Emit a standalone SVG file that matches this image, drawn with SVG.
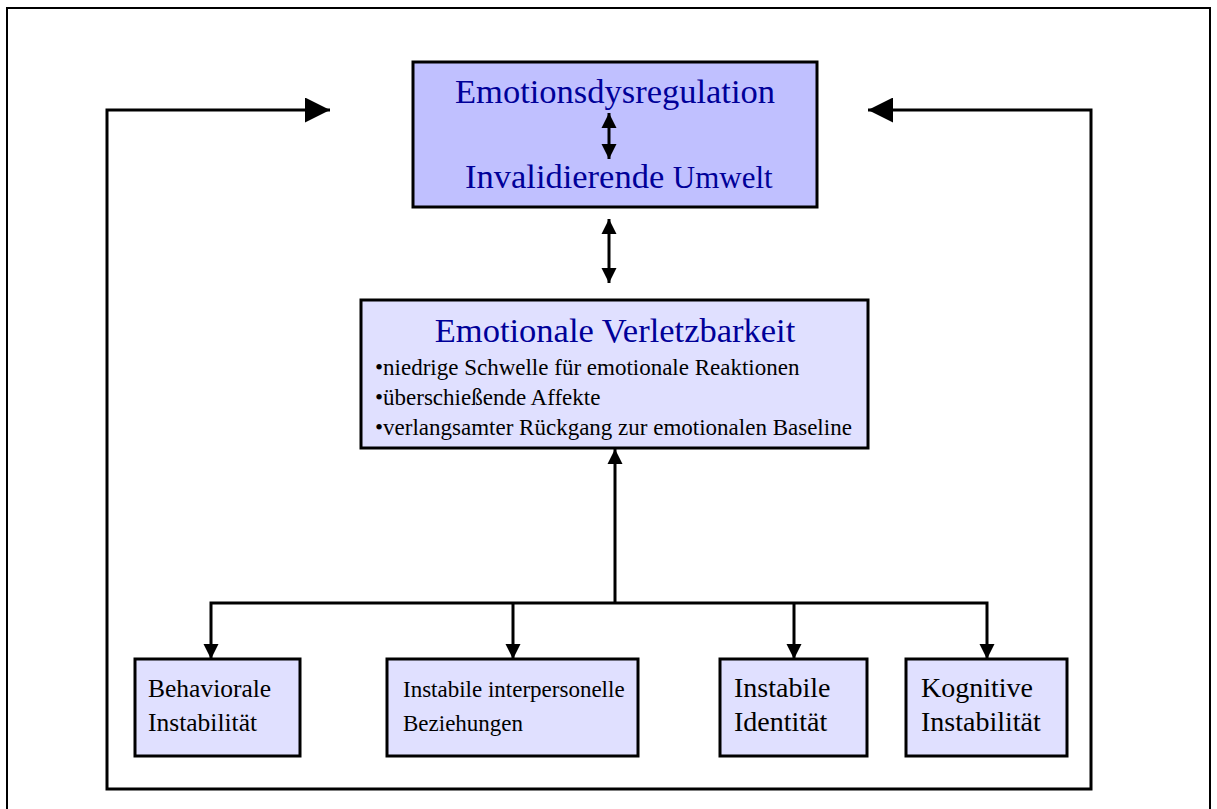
<svg xmlns="http://www.w3.org/2000/svg" width="1217" height="809" viewBox="0 0 1217 809">
<defs>
<style>
.box{stroke:#000;stroke-width:3}
.top{fill:#C0C0FF}
.light{fill:#E0E0FF}
.title{font-family:"Liberation Serif","Times New Roman",serif;fill:#000099}
.body{font-family:"Liberation Serif","Times New Roman",serif;fill:#000}
.conn{fill:none;stroke:#000;stroke-width:3}
</style>
<marker id="big" viewBox="0 0 10 10" refX="10" refY="5" markerWidth="26" markerHeight="25" markerUnits="userSpaceOnUse" orient="auto-start-reverse"><path d="M0,0 L10,5 L0,10 z" fill="#000"/></marker>
<marker id="sm" viewBox="0 0 10 10" refX="10" refY="5" markerWidth="15" markerHeight="16" markerUnits="userSpaceOnUse" orient="auto-start-reverse"><path d="M0,0 L10,5 L0,10 z" fill="#000"/></marker>
</defs>
<rect x="7" y="8" width="1203" height="810" fill="#fff" stroke="#000" stroke-width="2"/>
<g id="connectors">
<path class="conn" d="M330,110 H107 V789 H1091 V110 H868" marker-start="url(#big)" marker-end="url(#big)"/>
<path class="conn" d="M609,219 V283" marker-start="url(#sm)" marker-end="url(#sm)"/>
<path class="conn" d="M615,603 V449" marker-end="url(#sm)"/>
<path class="conn" d="M211,659 V603 H987 V659" marker-start="url(#sm)" marker-end="url(#sm)"/>
<path class="conn" d="M513,603 V659" marker-end="url(#sm)"/>
<path class="conn" d="M794,603 V659" marker-end="url(#sm)"/>
</g>
<g id="node-top">
<rect class="box top" x="413" y="62" width="404" height="145"/>
<text class="title" x="615" y="103" font-size="34.5" text-anchor="middle">Emotionsdysregulation</text>
<path class="conn" d="M609,113 V159" marker-start="url(#sm)" marker-end="url(#sm)"/>
<text class="title" x="465" y="188" font-size="34.5">Invalidierende <tspan font-size="31">Umwelt</tspan></text>
</g>
<g id="node-middle">
<rect class="box light" x="361" y="300" width="507" height="148"/>
<text class="title" x="615" y="342" font-size="34.5" text-anchor="middle">Emotionale Verletzbarkeit</text>
<text class="body" x="375" y="375" font-size="23">•niedrige Schwelle für emotionale Reaktionen</text>
<text class="body" x="375" y="405" font-size="23">•überschießende Affekte</text>
<text class="body" x="375" y="435" font-size="23">•verlangsamter Rückgang zur emotionalen Baseline</text>
</g>
<g id="node-behav">
<rect class="box light" x="135" y="659" width="165" height="97"/>
<text class="body" x="148" y="697" font-size="25.5">Behaviorale</text>
<text class="body" x="148" y="731" font-size="25.5">Instabilität</text>
</g>
<g id="node-interp">
<rect class="box light" x="387" y="659" width="251" height="97"/>
<text class="body" x="403" y="697" font-size="23">Instabile interpersonelle</text>
<text class="body" x="403" y="731" font-size="23">Beziehungen</text>
</g>
<g id="node-ident">
<rect class="box light" x="720" y="659" width="147" height="97"/>
<text class="body" x="734" y="697" font-size="28">Instabile</text>
<text class="body" x="734" y="731" font-size="28">Identität</text>
</g>
<g id="node-kogn">
<rect class="box light" x="906" y="659" width="161" height="97"/>
<text class="body" x="921" y="697" font-size="28">Kognitive</text>
<text class="body" x="921" y="731" font-size="28">Instabilität</text>
</g>
</svg>
